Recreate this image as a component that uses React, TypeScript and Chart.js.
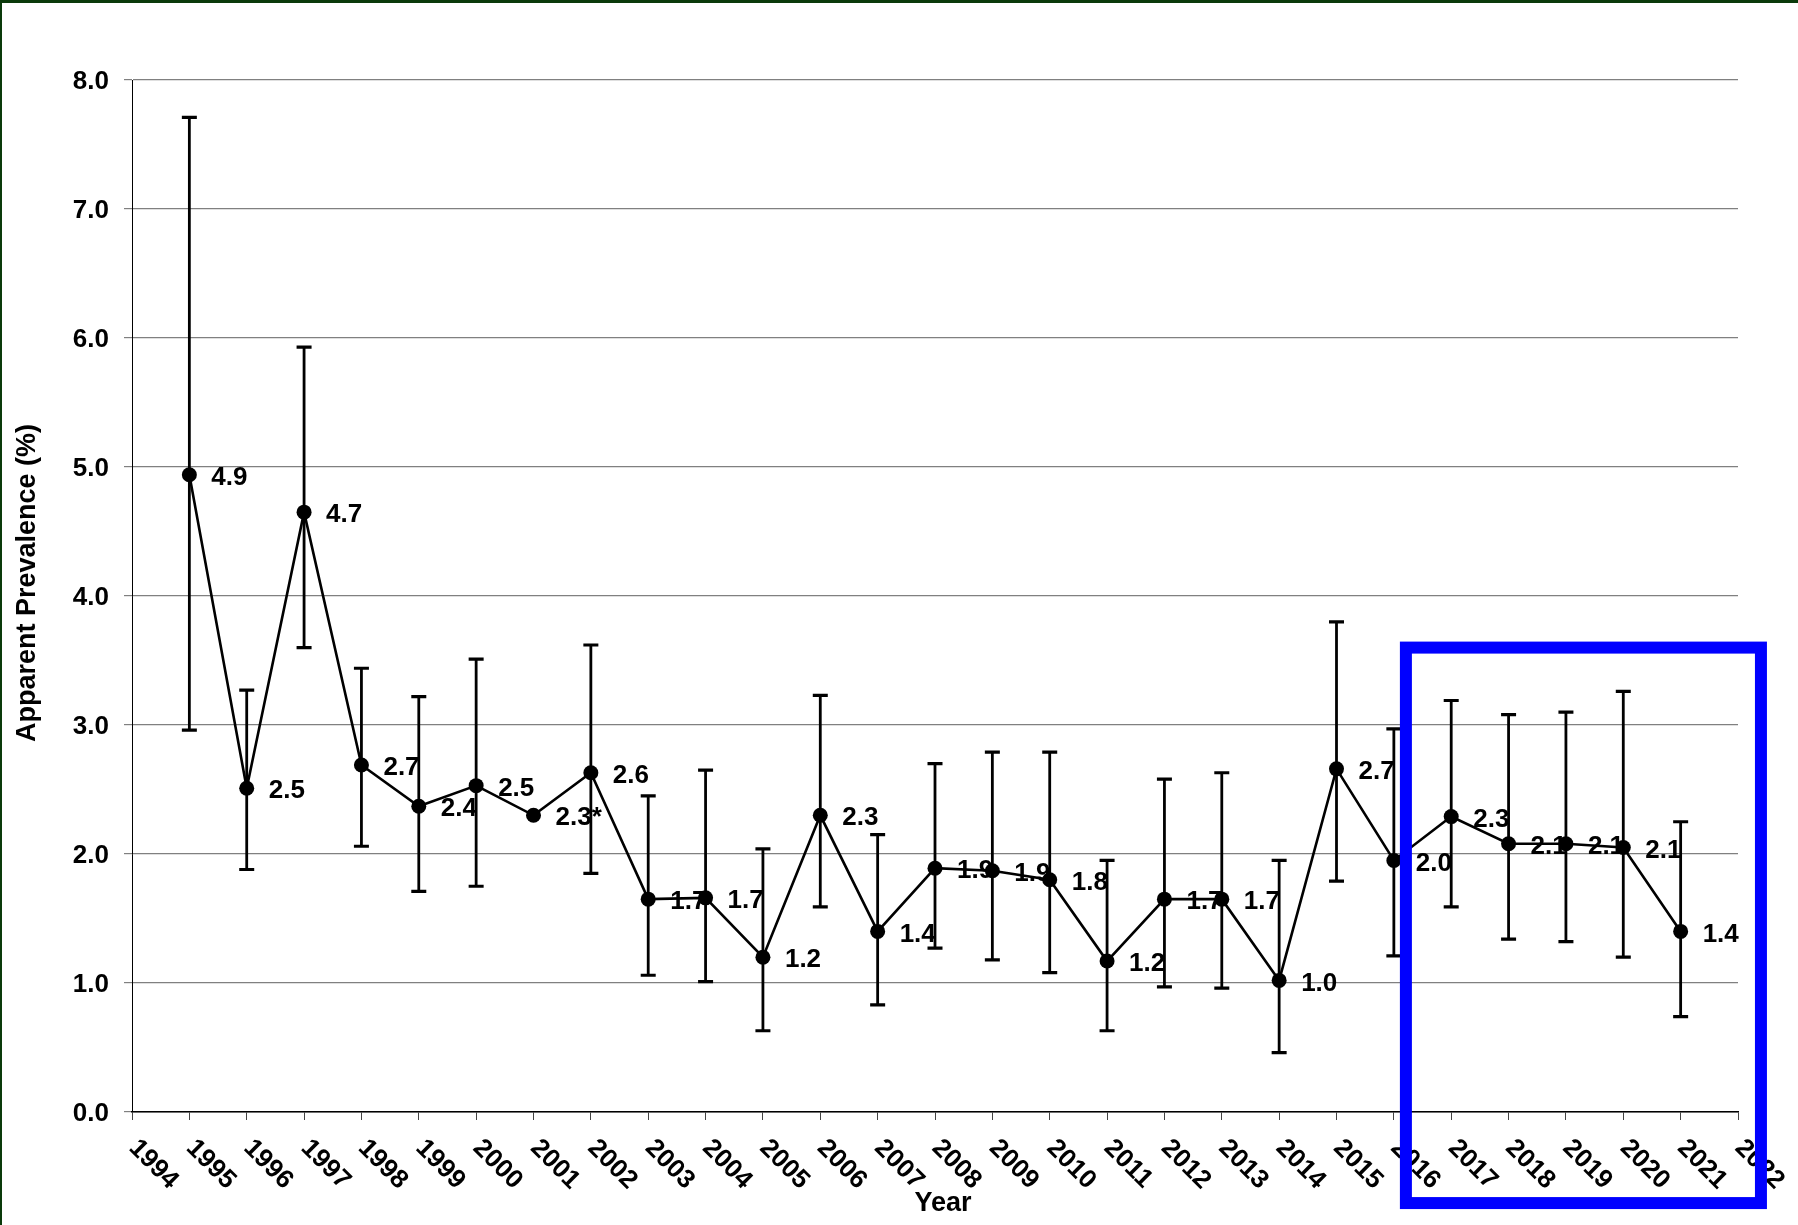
import React, { useEffect, useRef } from "react";
import { Chart, registerables } from "chart.js";

Chart.register(...registerables);

const FONT = '"Liberation Sans", Arial, Helvetica, sans-serif';

const YEARS = [
  1995, 1996, 1997, 1998, 1999, 2000, 2001, 2002, 2003, 2004, 2005, 2006, 2007, 2008,
  2009, 2010, 2011, 2012, 2013, 2014, 2015, 2016, 2017, 2018, 2019, 2020, 2021,
];
const PREVALENCE = [
  4.94, 2.51, 4.65, 2.69, 2.37, 2.53, 2.3, 2.63, 1.65, 1.66, 1.2, 2.3, 1.4, 1.89,
  1.87, 1.8, 1.17, 1.65, 1.65, 1.02, 2.66, 1.95, 2.29, 2.08, 2.08, 2.05, 1.4,
];
const CI_LOWER: (number | null)[] = [
  2.96, 1.88, 3.6, 2.06, 1.71, 1.75, null, 1.85, 1.06, 1.01, 0.63, 1.59, 0.83, 1.27,
  1.18, 1.08, 0.63, 0.97, 0.96, 0.46, 1.79, 1.21, 1.59, 1.34, 1.32, 1.2, 0.74,
];
const CI_UPPER: (number | null)[] = [
  7.71, 3.27, 5.93, 3.44, 3.22, 3.51, null, 3.62, 2.45, 2.65, 2.04, 3.23, 2.15, 2.7,
  2.79, 2.79, 1.95, 2.58, 2.63, 1.95, 3.8, 2.97, 3.19, 3.08, 3.1, 3.26, 2.25,
];
const POINT_LABELS = [
  "4.9", "2.5", "4.7", "2.7", "2.4", "2.5", "2.3*", "2.6", "1.7", "1.7", "1.2", "2.3",
  "1.4", "1.9", "1.9", "1.8", "1.2", "1.7", "1.7", "1.0", "2.7", "2.0", "2.3", "2.1",
  "2.1", "2.1", "1.4",
];
const X_TICK_LABELS = [
  "1994", "1995", "1996", "1997", "1998", "1999", "2000", "2001", "2002", "2003",
  "2004", "2005", "2006", "2007", "2008", "2009", "2010", "2011", "2012", "2013",
  "2014", "2015", "2016", "2017", "2018", "2019", "2020", "2021", "2022",
];
const Y_TICK_LABELS = ["0.0", "1.0", "2.0", "3.0", "4.0", "5.0", "6.0", "7.0", "8.0"];
const X_TITLE = "Year";
const Y_TITLE = "Apparent Prevalence (%)";
// highlight box in data units: [xFrom, xTo], [yFrom, yTo]
const HIGHLIGHT_X = [2016.21, 2022.4];
const HIGHLIGHT_Y = [-0.706, 3.6];

const overlayPlugin = {
  id: "overlay",
  beforeDatasetsDraw(chart: any) {
    const { ctx } = chart;
    const x = chart.scales.x;
    const y = chart.scales.y;
    ctx.save();
    ctx.font = `bold 26px ${FONT}`;
    ctx.fillStyle = "#000";
    ctx.textAlign = "left";
    ctx.textBaseline = "middle";
    YEARS.forEach((yr, i) => {
      ctx.fillText(
        POINT_LABELS[i],
        x.getPixelForValue(yr) + 22,
        y.getPixelForValue(PREVALENCE[i]) + 3
      );
    });
    ctx.strokeStyle = "#000";
    YEARS.forEach((yr, i) => {
      const lo = CI_LOWER[i];
      const hi = CI_UPPER[i];
      if (lo == null || hi == null) return;
      const px = x.getPixelForValue(yr);
      const pLo = y.getPixelForValue(lo);
      const pHi = y.getPixelForValue(hi);
      ctx.lineWidth = 2.8;
      ctx.beginPath();
      ctx.moveTo(px, pLo);
      ctx.lineTo(px, pHi);
      ctx.stroke();
      ctx.lineWidth = 3.2;
      ctx.beginPath();
      ctx.moveTo(px - 7.5, pLo);
      ctx.lineTo(px + 7.5, pLo);
      ctx.moveTo(px - 7.5, pHi);
      ctx.lineTo(px + 7.5, pHi);
      ctx.stroke();
    });
    ctx.restore();
  },
  afterDraw(chart: any) {
    const { ctx, chartArea } = chart;
    const x = chart.scales.x;
    const y = chart.scales.y;
    ctx.save();
    // rotated x tick labels
    ctx.font = `bold 26px ${FONT}`;
    ctx.fillStyle = "#000";
    ctx.textAlign = "left";
    ctx.textBaseline = "middle";
    X_TICK_LABELS.forEach((lab) => {
      const px = x.getPixelForValue(Number(lab));
      ctx.save();
      ctx.translate(px + 1, chartArea.bottom + 32);
      ctx.rotate(Math.PI / 4);
      ctx.fillText(lab, 0, 0);
      ctx.restore();
    });
    // axis titles
    ctx.font = `bold 27px ${FONT}`;
    ctx.textAlign = "center";
    ctx.textBaseline = "middle";
    ctx.fillText(X_TITLE, (chartArea.left + chartArea.right) / 2 + 8, 1204);
    ctx.save();
    ctx.translate(28, 583);
    ctx.rotate(-Math.PI / 2);
    ctx.fillText(Y_TITLE, 0, 0);
    ctx.restore();
    // highlight box
    const x1 = x.getPixelForValue(HIGHLIGHT_X[0]);
    const x2 = x.getPixelForValue(HIGHLIGHT_X[1]);
    const y1 = y.getPixelForValue(HIGHLIGHT_Y[1]);
    const y2 = y.getPixelForValue(HIGHLIGHT_Y[0]);
    ctx.strokeStyle = "#0000ff";
    ctx.lineWidth = 12;
    ctx.lineJoin = "miter";
    ctx.strokeRect(x1, y1, x2 - x1, y2 - y1);
    // frame edges
    ctx.fillStyle = "#0a3a0a";
    ctx.fillRect(0, 0, chart.width, 3);
    ctx.fillRect(0, 0, 2, chart.height);
    ctx.restore();
  },
};

export default function App() {
  const ref = useRef<HTMLCanvasElement | null>(null);

  useEffect(() => {
    document.body.style.margin = "0";
    const canvas = ref.current;
    if (!canvas) return;
    Chart.defaults.font.family = FONT;
    const chart = new Chart(canvas, {
      type: "line",
      data: {
        datasets: [
          {
            data: YEARS.map((yr, i) => ({ x: yr, y: PREVALENCE[i] })),
            borderColor: "#000",
            borderWidth: 2.6,
            backgroundColor: "#000",
            pointRadius: 7.5,
            pointHoverRadius: 7.5,
            pointBackgroundColor: "#000",
            pointBorderWidth: 0,
            tension: 0,
            fill: false,
            clip: false as any,
          },
        ],
      },
      options: {
        responsive: false,
        animation: false,
        devicePixelRatio: 1,
        events: [],
        layout: { padding: { left: 0, top: 80, right: 60, bottom: 0 } },
        plugins: {
          legend: { display: false },
          tooltip: { enabled: false },
          title: { display: false },
        },
        scales: {
          x: {
            type: "linear",
            min: 1994,
            max: 2022,
            ticks: { display: false, stepSize: 1 },
            grid: {
              drawOnChartArea: false,
              drawTicks: true,
              tickLength: 8,
              color: "#444",
              lineWidth: 1,
            },
            border: { color: "#000", width: 1.5 },
            afterFit: (s: any) => {
              s.height = 113;
            },
          },
          y: {
            type: "linear",
            min: 0,
            max: 8,
            ticks: {
              stepSize: 1,
              padding: 15,
              labelOffset: 2,
              color: "#000",
              font: { size: 26, weight: "bold", family: FONT },
              callback: (v: any) => Y_TICK_LABELS[Math.round(Number(v))],
            },
            grid: { color: "#808080", lineWidth: 1.2, tickLength: 8 },
            border: { color: "#000", width: 1 },
            afterFit: (s: any) => {
              s.width = 132;
            },
          },
        },
      } as any,
      plugins: [overlayPlugin],
    });
    return () => chart.destroy();
  }, []);

  return (
    <div
      style={{
        position: "absolute",
        left: 0,
        top: 0,
        width: 1798,
        height: 1225,
        background: "#fff",
      }}
    >
      <canvas ref={ref} width={1798} height={1225} style={{ display: "block" }} />
    </div>
  );
}
